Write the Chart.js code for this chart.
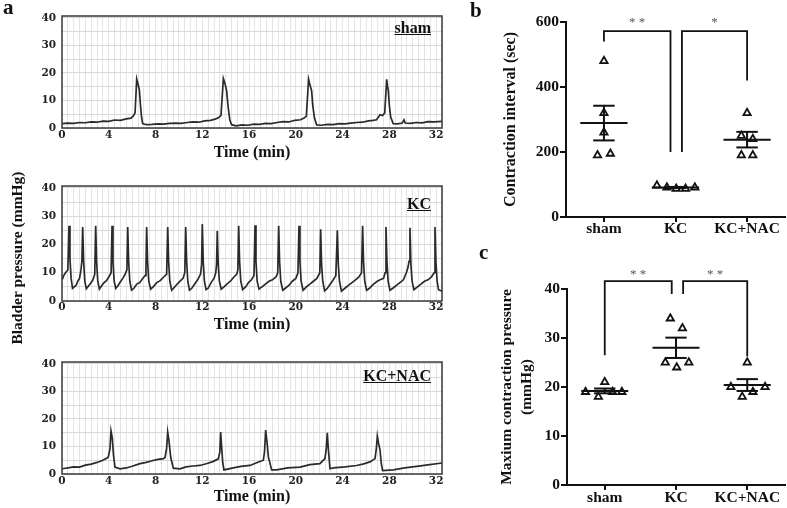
<!DOCTYPE html>
<html lang="en">
<head>
<meta charset="UTF-8" />
<title>Bladder pressure - KC / NAC</title>
<script src="https://cdn.jsdelivr.net/npm/chart.js"></script>
<style>
  body { margin: 0; background: #fff; width: 787px; height: 508px; position: relative; overflow: hidden;
         font-family: 'Liberation Serif', 'Times New Roman', serif; color: #111; }
  canvas { position: absolute; }
  .lbl { position: absolute; font-weight: bold; line-height: 1; white-space: nowrap; }
  .panel { font-size: 21px; }
  .grp { font-size: 16px; text-decoration: underline; }
  #ytitle { position: absolute; left: -83px; top: 250px; width: 200px; text-align: center;
            font-size: 15.5px; font-weight: bold; line-height: 16px; transform: rotate(-90deg); white-space: nowrap; }
</style>
</head>
<body>
  <canvas id="traceSham" width="460" height="170" style="left:0;top:0"></canvas>
  <canvas id="traceKC" width="460" height="170" style="left:0;top:170px"></canvas>
  <canvas id="traceNAC" width="460" height="168" style="left:0;top:340px"></canvas>
  <canvas id="intervalChart" width="327" height="240" style="left:460px;top:0"></canvas>
  <canvas id="pressureChart" width="327" height="268" style="left:460px;top:240px"></canvas>

  <div class="lbl panel" style="left:3px;top:-3px">a</div>
  <div class="lbl panel" style="left:470px;top:0">b</div>
  <div class="lbl panel" style="left:479px;top:242px">c</div>
  <div class="lbl grp" style="right:356px;top:20px">sham</div>
  <div class="lbl grp" style="right:356px;top:196px">KC</div>
  <div class="lbl grp" style="right:356px;top:368px">KC+NAC</div>
  <div id="ytitle">Bladder pressure (mmHg)</div>

<script>
// ---- panel a: cystometry traces, [time (min), pressure (mmHg)] ----
const timeLabels = [0, 4, 8, 12, 16, 20, 24, 28, 32];
const pressureLabels = [0, 10, 20, 30, 40];
const pressureGrid = [0, 5, 10, 15, 20, 25, 30, 35, 40];

const traceShamData = [
  [0,1.6],[0.5,1.8],[1,1.7],[1.5,2.0],[2,1.9],[2.5,2.2],[3,2.1],[3.5,2.5],[4,2.4],[4.5,2.9],[5,2.8],[5.5,3.3],
  [5.9,3.6],[6.1,4.4],[6.25,5.5],[6.39,17.8],[6.5,16],[6.61,14],[6.7,9],[6.8,4],[6.9,1.6],[7.2,1.2],[7.7,1.3],
  [8.2,1.5],[8.7,1.4],[9.2,1.7],[9.7,1.8],[10.2,1.7],[10.7,2.0],[11.2,2.2],[11.7,2.1],[12.2,2.6],[12.7,2.8],
  [13.1,3.2],[13.4,3.8],[13.6,4.6],[13.8,18],[13.95,16],[14.08,13.5],[14.2,8],[14.35,3],[14.5,1.2],[14.9,0.8],
  [15.4,1.1],[15.9,1.0],[16.4,1.4],[16.9,1.3],[17.4,1.7],[17.9,1.6],[18.4,2.0],[18.9,2.3],[19.4,2.2],[19.9,2.8],
  [20.4,3.0],[20.7,3.6],[20.9,4.3],[21.09,17.7],[21.22,15.5],[21.35,13.5],[21.45,8],[21.6,3.5],[21.78,1.1],
  [22.2,1.0],[22.7,1.3],[23.2,1.2],[23.7,1.6],[24.2,1.5],[24.7,1.8],[25.2,2.0],[25.7,2.1],[26.2,2.6],[26.6,2.8],
  [26.9,3.0],[27.2,4.8],[27.42,4.5],[27.6,5.5],[27.77,17.7],[27.85,15],[27.91,13.5],[28.0,8],[28.11,4],[28.33,1.6],
  [28.7,1.5],[29.1,1.8],[29.25,3.0],[29.35,1.8],[29.8,1.7],[30.3,2.0],[30.8,1.9],[31.3,2.3],[31.8,2.2],[32.5,2.4]
];

const traceKCData = [
  [0,7.5],[0.15,9],[0.3,10],[0.5,11],[0.6,26.6],[0.68,15],[0.78,8],[0.9,4.5],[1.05,5],[1.2,5.5],[1.35,7],[1.5,8],
  [1.62,11],[1.7,14],[1.77,26.2],[1.85,14],[1.95,7],[2.08,4.3],[2.25,5.2],[2.45,6.3],[2.65,7.5],[2.8,9.5],
  [2.88,26.6],[2.96,14],[3.06,7],[3.2,4.2],[3.4,5.5],[3.6,6.5],[3.8,7.2],[4.0,8.5],[4.2,10],[4.28,26.6],[4.36,14],
  [4.46,7],[4.6,4.5],[4.8,5.5],[5.0,6.8],[5.2,8],[5.4,9.5],[5.55,11],[5.62,26.2],[5.7,14],[5.8,7],[5.95,3.8],
  [6.15,4.5],[6.4,6],[6.65,6.5],[6.9,8],[7.1,9],[7.18,11],[7.24,26.2],[7.32,14],[7.42,7],[7.58,4.2],[7.8,5],
  [8.1,6.5],[8.4,7.2],[8.7,8.5],[8.95,9.5],[9.04,26.2],[9.12,14],[9.22,7],[9.38,3.8],[9.6,4.8],[9.85,6],[10.1,7],
  [10.35,8],[10.5,10],[10.58,26.2],[10.66,14],[10.76,7],[10.9,3.8],[11.1,4.5],[11.35,6],[11.6,7.5],[11.85,9.5],
  [11.94,13],[12.0,27.2],[12.08,14],[12.18,7],[12.32,4],[12.5,4.5],[12.75,6.5],[13.0,8],[13.15,10],[13.22,13],
  [13.28,24.8],[13.36,13],[13.46,7],[13.62,4.2],[13.85,5],[14.1,6],[14.4,7],[14.7,8.5],[14.95,9.5],[15.04,11],
  [15.11,26.6],[15.19,14],[15.29,7],[15.45,4],[15.7,5],[15.95,6.5],[16.2,7.5],[16.42,9],[16.51,26.8],[16.59,14],
  [16.69,7],[16.85,4.2],[17.1,5],[17.4,6],[17.7,7],[18.0,7.5],[18.3,8.5],[18.45,10],[18.53,26.6],[18.61,14],
  [18.71,7],[18.88,3.8],[19.1,4.5],[19.4,5.5],[19.7,7],[20.0,8],[20.18,10],[20.27,26.6],[20.35,14],[20.45,7],
  [20.62,3.8],[20.9,5],[21.2,6],[21.5,7],[21.8,8],[22.05,10],[22.12,25.4],[22.2,13],[22.3,7],[22.46,3.6],
  [22.7,4.5],[22.95,6],[23.2,7.5],[23.42,9],[23.55,25.0],[23.63,13],[23.73,7],[23.9,3.5],[24.2,4.5],[24.5,5.5],
  [24.8,6.5],[25.1,7.5],[25.4,8.5],[25.62,10],[25.71,26.6],[25.79,14],[25.89,7],[26.05,3.8],[26.3,4.5],[26.6,5.8],
  [26.9,6.8],[27.2,7.5],[27.5,8],[27.63,10],[27.71,26.2],[27.79,14],[27.89,7],[28.05,3.8],[28.3,4.5],[28.6,5.5],
  [28.9,6.5],[29.2,7.5],[29.45,10],[29.6,12],[29.68,14],[29.76,25.9],[29.84,13],[29.94,7],[30.1,4],[30.4,5],
  [30.7,6],[31.0,7],[31.3,7.5],[31.6,8.5],[31.82,10],[31.9,26.2],[31.98,14],[32.08,7],[32.2,4],[32.5,3.5]
];

const traceNACData = [
  [0,1.9],[0.5,2.2],[1,2.6],[1.5,2.5],[2,3.2],[2.5,3.6],[3,4.2],[3.5,5],[3.85,5.8],[3.96,6.2],[4.1,9],[4.19,15.6],
  [4.3,13],[4.4,7],[4.53,2.5],[4.96,1.9],[5.5,2.2],[6,2.8],[6.67,3.75],[7.2,4.2],[7.7,4.8],[8.2,5.3],[8.67,5.6],
  [8.81,6],[8.95,9.4],[9.04,15.2],[9.15,12],[9.3,6],[9.52,2.1],[10.09,1.9],[10.6,2.6],[11.2,2.9],[11.8,3.1],
  [12.4,3.8],[12.9,4.5],[13.37,5.5],[13.5,8],[13.57,15.2],[13.65,10],[13.75,4],[13.85,1.5],[14.65,2.2],[15.3,2.8],
  [16.08,3.1],[16.7,4.2],[17.22,5],[17.32,8],[17.42,16],[17.55,11],[17.65,6.2],[17.93,1.5],[18.36,1.5],[19.3,2.2],
  [20.35,2.5],[21.2,3.4],[22.06,3.75],[22.49,5.6],[22.6,9],[22.69,15],[22.78,9],[22.92,1.9],[23.2,2.2],[24.2,2.6],
  [25.2,3.1],[25.8,3.7],[26.34,4.4],[26.77,5.6],[26.88,9],[26.97,13.75],[27.08,11],[27.2,8.75],[27.3,4],[27.42,1.25],
  [28.34,1.5],[29.3,2.2],[30.33,2.75],[31.3,3.3],[32.5,4]
];

// ---- panels b, c: individual animals ----
const groups = ['sham', 'KC', 'KC+NAC'];
const intervalTicks = [0, 200, 400, 600];
const pressureTicks = [0, 10, 20, 30, 40];

const intervalSham = [480, 320, 260, 190, 195];
const intervalKC = [97, 91, 87, 87, 91];
const intervalNAC = [320, 250, 240, 190, 190];
const intervalJitter = [[0, 0, 0, -0.09, 0.09], [-0.26, -0.12, 0.01, 0.14, 0.27], [0, -0.08, 0.08, -0.08, 0.08]];

const pressureSham = [19, 18, 21, 19, 19];
const pressureKC = [25, 34, 24, 32, 25];
const pressureNAC = [20, 18, 25, 19, 20];
const pressureJitter = [[-0.27, -0.09, 0, 0.11, 0.24], [-0.15, -0.08, 0.01, 0.09, 0.18], [-0.23, -0.07, 0, 0.08, 0.25]];

// significance brackets: [x from, x to], [left leg bottom, right leg bottom], top, stars
const intervalBracketX = [[0, 0.93], [1.09, 2]];
const intervalBracketLegs = [[540, 200], [200, 420]];
const intervalBracketTop = 572;
const intervalStars = ['* *', '*'];
const intervalStarY = 588;

const pressureBracketX = [[0, 0.94], [1.1, 2]];
const pressureBracketLegs = [[26.5, 39], [39, 26.2]];
const pressureBracketTop = 41.6;
const pressureStars = ['* *', '* *'];
const pressureStarY = 42.3;

Chart.defaults.font.family = "'Liberation Serif', 'Times New Roman', serif";
Chart.defaults.color = '#111';

const framePlugin = {
  id: 'frame',
  afterDatasetsDraw(chart) {
    const { ctx, chartArea: a } = chart;
    ctx.save();
    ctx.strokeStyle = '#3a3a3a';
    ctx.lineWidth = 1.5;
    ctx.strokeRect(a.left, a.top, a.right - a.left, a.bottom - a.top);
    ctx.restore();
  }
};

function traceChart(id, trace, area) {
  const tickFont = { family: "'DejaVu Serif', serif", weight: 'bold', size: 10.5 };
  return new Chart(document.getElementById(id), {
    type: 'line',
    data: { datasets: [{ data: trace, borderColor: '#2a2a2a', borderWidth: 1.7, pointRadius: 0, tension: 0 }] },
    options: {
      responsive: false,
      animation: false,
      layout: { autoPadding: false, padding: { top: area.top, right: 18, left: 0, bottom: 0 } },
      plugins: { legend: { display: false }, tooltip: { enabled: false } },
      scales: {
        x: {
          type: 'linear', min: 0, max: 32.5,
          afterFit: s => { s.height = area.xh; },
          border: { display: false },
          grid: { color: '#e4e4e4', lineWidth: 1, drawTicks: false },
          ticks: { stepSize: 0.5, autoSkip: false, maxRotation: 0, padding: area.tickPad, font: tickFont, color: '#222',
                   callback: v => timeLabels.includes(v) ? v : '' },
          title: { display: true, text: 'Time (min)', font: { size: 16, weight: 'bold' }, padding: { top: 0, bottom: area.titlePad } }
        },
        y: {
          min: 0, max: 40.7,
          afterFit: s => { s.width = 62; },
          afterBuildTicks: s => { s.ticks = pressureGrid.map(v => ({ value: v })); },
          border: { display: false },
          grid: { color: '#d8d8d8', lineWidth: 1, drawTicks: false },
          ticks: { autoSkip: false, padding: 6, font: tickFont, color: '#222',
                   callback: v => pressureLabels.includes(v) ? v : '' }
        }
      }
    },
    plugins: [framePlugin]
  });
}

traceChart('traceSham', traceShamData, { top: 16, xh: 42, tickPad: 1, titlePad: 8 });
traceChart('traceKC', traceKCData, { top: 16, xh: 39, tickPad: 0, titlePad: 6 });
traceChart('traceNAC', traceNACData, { top: 22, xh: 34, tickPad: 1, titlePad: 2 });

const mean = a => a.reduce((s, v) => s + v, 0) / a.length;
const sem = a => {
  const m = mean(a);
  return Math.sqrt(a.reduce((s, v) => s + (v - m) * (v - m), 0) / (a.length - 1)) / Math.sqrt(a.length);
};

const statsPlugin = {
  id: 'stats',
  afterDatasetsDraw(chart, args, o) {
    const { ctx, scales: { x, y } } = chart;
    const seg = (x0, y0, x1, y1) => {
      ctx.beginPath();
      ctx.moveTo(x.getPixelForValue(x0), y.getPixelForValue(y0));
      ctx.lineTo(x.getPixelForValue(x1), y.getPixelForValue(y1));
      ctx.stroke();
    };
    ctx.save();
    ctx.strokeStyle = '#111';
    ctx.lineWidth = 2;
    ctx.lineCap = 'butt';
    o.values.forEach((vals, g) => {
      const m = mean(vals), e = sem(vals);
      seg(g - 0.33, m, g + 0.33, m);
      seg(g, m - e, g, m + e);
      seg(g - 0.15, m + e, g + 0.15, m + e);
      seg(g - 0.15, m - e, g + 0.15, m - e);
    });
    ctx.lineWidth = 1.8;
    o.bracketX.forEach((bx, i) => {
      const legs = o.bracketLegs[i];
      ctx.beginPath();
      ctx.moveTo(x.getPixelForValue(bx[0]), y.getPixelForValue(legs[0]));
      ctx.lineTo(x.getPixelForValue(bx[0]), y.getPixelForValue(o.bracketTop));
      ctx.lineTo(x.getPixelForValue(bx[1]), y.getPixelForValue(o.bracketTop));
      ctx.lineTo(x.getPixelForValue(bx[1]), y.getPixelForValue(legs[1]));
      ctx.stroke();
      ctx.fillStyle = '#555';
      ctx.font = "13px 'Liberation Serif', serif";
      ctx.textAlign = 'center';
      ctx.textBaseline = 'alphabetic';
      ctx.fillText(o.stars[i], x.getPixelForValue((bx[0] + bx[1]) / 2), y.getPixelForValue(o.starY));
    });
    ctx.restore();
  }
};

function dotChart(id, values, jitter, yCfg, stats, area) {
  const axisFont = { size: 15.5, weight: 'bold', lineHeight: 1 };
  const datasets = values.map((vals, g) => ({
    data: vals.map((v, i) => ({ x: g + jitter[g][i], y: v })),
    pointStyle: 'triangle', pointRadius: 4.2, borderWidth: 1.8,
    borderColor: '#111', backgroundColor: '#fff'
  }));
  return new Chart(document.getElementById(id), {
    type: 'scatter',
    data: { datasets },
    options: {
      responsive: false,
      animation: false,
      layout: { autoPadding: false, padding: { top: area.top, right: area.right, left: 0, bottom: 0 } },
      plugins: { legend: { display: false }, tooltip: { enabled: false }, stats: Object.assign({ values }, stats) },
      scales: {
        x: {
          type: 'linear', min: -0.53, max: 2.53,
          afterFit: s => { s.height = area.xh; },
          afterBuildTicks: s => { s.ticks = groups.map((g, i) => ({ value: i })); },
          border: { display: true, color: '#111', width: 2 },
          grid: { drawOnChartArea: false, drawTicks: true, tickLength: 5, color: '#111', lineWidth: 2 },
          ticks: { padding: area.xPad, font: axisFont, color: '#111', callback: (v, i) => groups[i] }
        },
        y: {
          min: 0, max: yCfg.max,
          afterFit: s => { s.width = area.left; },
          afterBuildTicks: s => { s.ticks = yCfg.ticks.map(v => ({ value: v })); },
          border: { display: true, color: '#111', width: 2 },
          grid: { drawOnChartArea: false, drawTicks: true, tickLength: 6, color: '#111', lineWidth: 2 },
          ticks: { padding: 1, font: { size: 15.5, weight: 'bold' }, color: '#111' },
          title: { display: true, text: yCfg.title, font: { size: yCfg.titleSize, weight: 'bold', lineHeight: 1.3 },
                   padding: { top: yCfg.titlePad, bottom: 0 } }
        }
      }
    },
    plugins: [statsPlugin]
  });
}

dotChart('intervalChart', [intervalSham, intervalKC, intervalNAC], intervalJitter,
  { max: 600, ticks: intervalTicks, title: 'Contraction interval (sec)', titleSize: 16, titlePad: 40 },
  { bracketX: intervalBracketX, bracketLegs: intervalBracketLegs, bracketTop: intervalBracketTop, stars: intervalStars, starY: intervalStarY },
  { top: 22, right: 2, left: 106, xh: 23, xPad: -1 });

dotChart('pressureChart', [pressureSham, pressureKC, pressureNAC], pressureJitter,
  { max: 40, ticks: pressureTicks, title: ['Maxium contraction pressure', '(mmHg)'], titleSize: 15.5, titlePad: 37 },
  { bracketX: pressureBracketX, bracketLegs: pressureBracketLegs, bracketTop: pressureBracketTop, stars: pressureStars, starY: pressureStarY },
  { top: 49, right: 2, left: 107, xh: 23, xPad: 0 });
</script>
</body>
</html>
